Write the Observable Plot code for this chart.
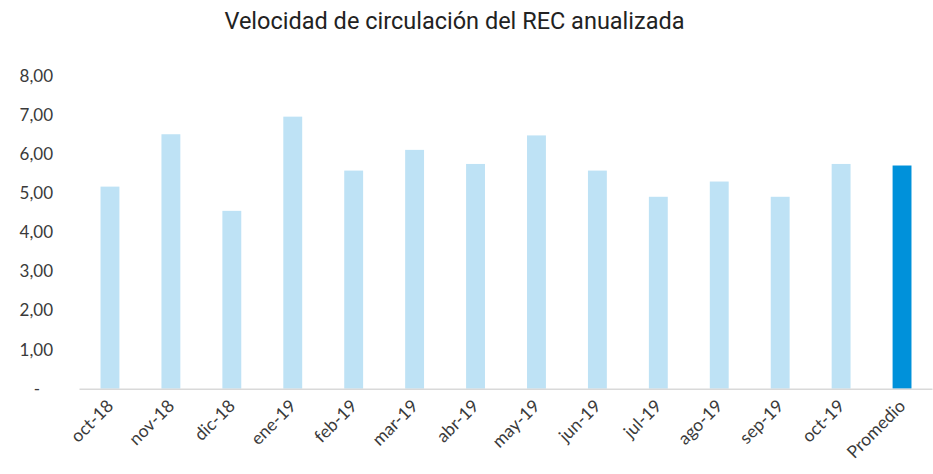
<!DOCTYPE html>
<html>
<head>
<meta charset="utf-8">
<script src="https://cdn.jsdelivr.net/npm/d3@7"></script>
<script src="https://cdn.jsdelivr.net/npm/@observablehq/plot@0.6"></script>
<style>
  html, body { margin: 0; padding: 0; background: #fff; }
  #title { height: 50px; box-sizing: border-box; padding-top: 7px; text-align: center; font-family: Roboto, sans-serif; font-size: 23.5px; color: #222; padding-right: 24px; }
  #chart svg { display: block; }
</style>
</head>
<body>
<div id="title">Velocidad de circulación del REC anualizada</div>
<div id="chart"></div>
<script>
const months = ["oct-18","nov-18","dic-18","ene-19","feb-19","mar-19","abr-19","may-19","jun-19","jul-19","ago-19","sep-19","oct-19","Promedio"];
const values = [5.17, 6.51, 4.55, 6.96, 5.58, 6.11, 5.75, 6.48, 5.58, 4.91, 5.30, 4.91, 5.75, 5.71];
const highlight = ["Promedio"];
const yTicks = [1, 2, 3, 4, 5, 6, 7, 8];

const data = months.map((m, i) => ({month: m, value: values[i], hi: highlight.includes(m)}));
const fmt = v => v.toFixed(2).replace(".", ",");

const chart = Plot.plot({
  width: 933,
  height: 424,
  marginLeft: 79.5,
  marginRight: 0.5,
  marginTop: 26,
  marginBottom: 85.3,
  style: {fontFamily: "Lato, sans-serif", background: "#fff"},
  x: {domain: months, paddingInner: 0.69, paddingOuter: 0.345, align: 0.5, round: false},
  y: {domain: [0, 8]},
  marks: [
    Plot.barY(data, {x: "month", y: "value", fill: d => d.hi ? "#0091DA" : "#BEE2F5"}),
    Plot.ruleY([0], {stroke: "#d9d9d9", strokeWidth: 1.5}),
    Plot.axisY(yTicks, {tickSize: 0, tickPadding: 27, tickFormat: fmt, fontSize: 17, fill: "#3a3a3a", label: null}),
    Plot.axisY([0], {tickSize: 0, tickPadding: 40, tickFormat: () => "-", fontSize: 17, fill: "#3a3a3a", label: null}),
    Plot.axisX({tickSize: 0, tickPadding: 14, tickRotate: -45, fontSize: 17.5, fill: "#3a3a3a", label: null})
  ]
});
document.getElementById("chart").appendChild(chart);
</script>
</body>
</html>
